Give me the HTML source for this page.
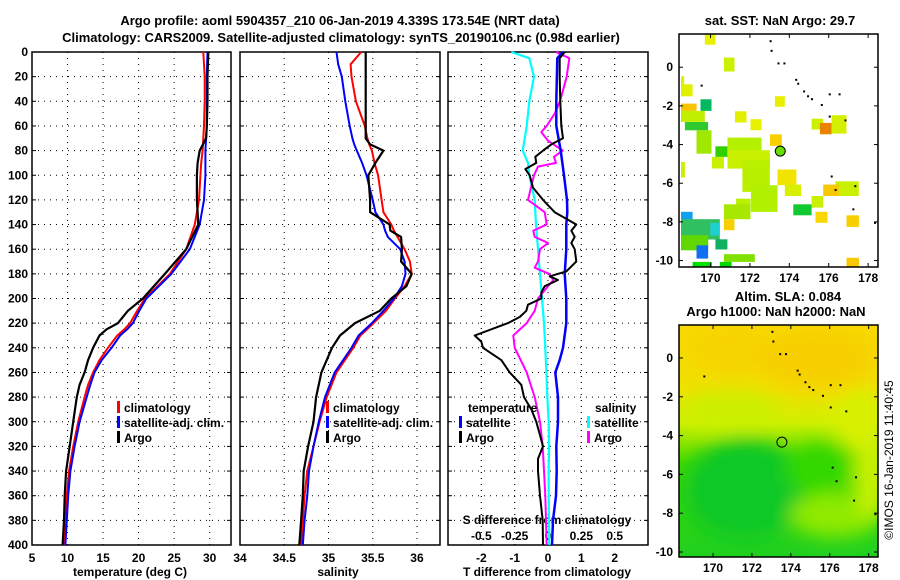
<!DOCTYPE html>
<html><head><meta charset="utf-8">
<style>
html,body{margin:0;padding:0;background:#fff;}
svg{display:block;font-family:"Liberation Sans",Arial,sans-serif;}
.t{font-weight:bold;font-size:12px;fill:#000;}
.ttl{font-weight:bold;font-size:13px;fill:#000;}
</style></head>
<body>
<svg id="fig" width="900" height="580" viewBox="0 0 900 580" xmlns="http://www.w3.org/2000/svg">
<text class="ttl" x="340" y="25" text-anchor="middle">Argo profile: aoml 5904357_210 06-Jan-2019 4.339S 173.54E (NRT data)</text>
<text class="ttl" x="341" y="42" text-anchor="middle">Climatology: CARS2009. Satellite-adjusted climatology: synTS_20190106.nc (0.98d earlier)</text>
<text class="ttl" x="780" y="25" text-anchor="middle">sat. SST: NaN Argo: 29.7</text>
<text class="ttl" x="788" y="301" text-anchor="middle">Altim. SLA: 0.084</text>
<text class="ttl" x="776" y="316" text-anchor="middle">Argo h1000: NaN h2000: NaN</text>
<text x="893" y="460" font-size="12" text-anchor="middle" transform="rotate(-90 893 460)">©IMOS 16-Jan-2019 11:40:45</text>
<g id="g"></g>
</svg>
<script>
// ---- profile data ----
const depthT = [0,20,40,60,70,80,90,100,120,140,160,180,200,210,220,225,230,240,250,260,270,280,300,320,340,360,380,400];
const argoT = [29.8,29.7,29.7,29.6,29.5,28.6,28.3,28.2,28.2,28.4,26.7,23.7,20.6,18.5,17.1,15.5,14.5,13.6,12.9,12.4,11.7,11.3,10.8,10.3,9.8,9.6,9.5,9.3];
const climT = [29.1,29.3,29.3,29.2,29.1,29.0,28.8,28.7,28.5,27.9,26.7,24.4,20.9,19.8,18.8,18.0,17.0,15.7,14.5,13.6,12.9,12.4,11.5,10.8,10.2,9.9,9.7,9.5];
const satT = [29.7,29.6,29.6,29.6,29.5,29.4,29.4,29.4,29.2,28.6,27.2,24.6,21.1,20.1,19.2,18.4,17.4,16.2,14.8,13.8,13.2,12.7,11.7,11.0,10.4,10.1,9.9,9.7];

const depthS = [0,10,20,40,60,70,75,80,90,100,120,130,140,145,150,160,170,180,190,200,210,220,230,240,260,280,300,320,340,360,380,400];
const argoS = [35.42,35.42,35.42,35.42,35.42,35.42,35.47,35.62,35.53,35.45,35.47,35.47,35.69,35.7,35.82,35.83,35.82,35.94,35.88,35.71,35.58,35.3,35.13,35.04,34.92,34.86,34.83,34.77,34.72,34.71,34.69,34.67];
const climS = [35.37,35.25,35.26,35.31,35.41,35.44,35.46,35.49,35.52,35.56,35.6,35.62,35.71,35.74,35.78,35.86,35.92,35.94,35.86,35.75,35.65,35.51,35.36,35.28,35.09,34.98,34.9,34.83,34.76,34.73,34.71,34.69];
const satS = [35.09,35.11,35.15,35.19,35.24,35.27,35.29,35.32,35.38,35.43,35.5,35.53,35.62,35.64,35.67,35.81,35.86,35.87,35.83,35.74,35.62,35.49,35.34,35.26,35.07,34.96,34.89,34.83,34.78,34.76,34.73,34.71];

const depthSatTd = [0,5,40,60,80,100,120,130,140,160,180,200,220,240,250,260,280,300,320,340,360,380,400];
const satTd = [0.45,0.28,0.25,0.25,0.38,0.48,0.57,0.58,0.55,0.55,0.5,0.55,0.55,0.45,0.35,0.22,0.3,0.3,0.25,0.26,0.24,0.15,0.12];
const depthArgoTd = [0,5,20,40,60,70,75,80,85,90,95,100,110,120,130,140,145,150,155,160,170,178,182,185,190,195,200,205,210,215,220,225,230,235,240,250,260,270,280,290,300,310,320,330,340,360,380,400];
const argoTd = [0.5,0.35,0.35,0.37,0.4,0.45,0.1,-0.15,-0.38,-0.35,-0.68,-0.55,-0.45,-0.15,0.2,0.85,0.7,0.8,0.7,0.8,0.85,0.55,0.05,0.3,-0.1,-0.2,-0.2,-0.6,-0.65,-0.85,-1.2,-1.7,-2.2,-2.0,-1.95,-1.4,-1.15,-0.8,-0.72,-0.5,-0.35,-0.25,-0.15,-0.3,-0.3,-0.24,-0.16,-0.15];
const depthSatSd = [0,5,20,40,60,80,90,100,120,140,160,180,200,220,240,260,280,300,320,340,360,400];
const satSd = [-0.275,-0.14,-0.105,-0.14,-0.16,-0.19,-0.15,-0.14,-0.1,-0.09,-0.075,-0.06,-0.045,-0.03,-0.02,-0.012,-0.005,0.005,0.008,0.005,0.005,0.01];
const depthArgoSd = [0,5,20,40,50,60,65,72,80,85,90,93,100,120,130,140,145,150,155,160,170,175,180,185,190,200,210,220,230,240,260,280,300,320,340,360,380,400];
const argoSd = [0.06,0.16,0.14,0.09,0.05,-0.01,-0.05,0,0.11,0.045,0.06,-0.075,-0.105,-0.15,-0.025,-0.01,-0.11,-0.1,0,-0.06,-0.075,-0.1,0.01,0.04,0,-0.075,-0.1,-0.16,-0.26,-0.25,-0.16,-0.1,-0.06,-0.04,-0.03,-0.02,-0.015,-0.01];

const depthTicks = [0,20,40,60,80,100,120,140,160,180,200,220,240,260,280,300,320,340,360,380,400];
const tempTicks = [5,10,15,20,25,30];
const salTicks = [34,34.5,35,35.5,36];
const tdTicks = [-2,-1,0,1,2];
const sdTicks = [-0.5,-0.25,0,0.25,0.5];
const sdTickLabels = ["-0.5","-0.25","0","0.25","0.5"];

// ---- map data: [lon1, lat1, lon2, lat2, color] ----
const sstCells = [
 [169.71,1.69,170.25,1.17,"#e6f000"],[170.68,0.5,171.22,-0.22,"#ccf000"],
 [168.5,-0.47,168.66,-1.5,"#e0f000"],[168.5,-0.88,169.09,-1.5,"#e0f000"],
 [173.27,-1.5,173.77,-2.05,"#e8f000"],[168.5,-1.88,169.29,-2.26,"#f8c400"],
 [169.49,-1.66,170.05,-2.26,"#00b860"],[168.5,-2.26,169.71,-2.83,"#c0f000"],
 [168.7,-2.83,169.88,-3.26,"#30c830"],[171.24,-2.28,171.83,-2.86,"#e2f000"],
 [172.03,-2.69,172.59,-3.26,"#e8f000"],[175.13,-2.66,175.72,-3.22,"#ccf000"],
 [176.14,-2.48,176.9,-3.43,"#d4f000"],[175.55,-2.88,176.14,-3.47,"#e88400"],
 [169.29,-3.26,170.05,-4.47,"#a0e800"],[173.02,-3.47,173.62,-4.07,"#f8d000"],
 [170.86,-3.64,172.59,-4.64,"#b4f000"],[170.25,-4.09,170.86,-4.64,"#30d000"],
 [170.07,-4.64,170.68,-5.24,"#c8f000"],[170.86,-4.29,173.01,-5.24,"#c8f000"],
 [168.5,-4.9,168.7,-5.7,"#c8f000"],[171.62,-4.81,173.01,-6.45,"#b8f000"],
 [173.4,-5.29,174.36,-6.1,"#f0e400"],[172.05,-6.1,173.4,-7.48,"#b0f000"],
 [173.77,-6.07,174.59,-6.66,"#d8f000"],[176.35,-5.9,177.53,-6.66,"#c8f000"],
 [175.72,-6.07,176.51,-6.66,"#f8c800"],[175.13,-6.66,175.72,-7.26,"#c8f000"],
 [171.3,-6.8,172.03,-7.1,"#b8f000"],[170.68,-7.09,172.03,-7.86,"#a8e800"],
 [174.2,-7.09,175.13,-7.66,"#10c830"],[168.5,-7.48,169.09,-8.05,"#10a0f0"],
 [168.5,-7.86,170.47,-8.91,"#30c060"],[169.99,-8.05,170.47,-8.7,"#20d0d0"],
 [170.68,-7.86,171.22,-8.43,"#f8d000"],[175.33,-7.48,175.94,-8.05,"#f8d800"],
 [176.9,-7.66,177.53,-8.26,"#f8d000"],[170.25,-8.9,170.86,-9.43,"#10b060"],
 [168.5,-8.69,169.88,-9.47,"#60d800"],[169.29,-9.21,169.88,-9.9,"#1070f0"],
 [170.68,-9.67,172.25,-10.07,"#80e000"],[169.09,-10.07,170.07,-10.33,"#00e000"],
 [170.47,-10.07,171.07,-10.33,"#00d800"],[176.9,-9.86,177.53,-10.33,"#f8c800"]
];
const islands = [[173.0,1.4],[173.05,0.9],[173.4,0.25],[173.7,0.25],[174.3,-0.6],[174.4,-0.8],[174.7,-1.2],[174.9,-1.45],[175.1,-1.6],[175.6,-1.9],[176.0,-1.35],[176.5,-1.35],[176.0,-2.5],[176.8,-2.7],[169.5,-0.9],[176.1,-5.6],[176.3,-6.3],[177.3,-6.1],[177.2,-7.3],[178.3,-8.0]];
const argoLon = 173.54, argoLat = -4.339;
const lonTicks = [170,172,174,176,178];
const latTicks = [0,-2,-4,-6,-8,-10];

const NS = "http://www.w3.org/2000/svg";
const G = document.getElementById('g');
function mk(tag, attrs, parent){
  const e = document.createElementNS(NS, tag);
  for (const k in attrs) e.setAttribute(k, attrs[k]);
  (parent||G).appendChild(e);
  return e;
}
const Y0 = 52, YS = 493/400;
const yOf = d => Y0 + d*YS;
const panels = [
  {x0:32, x1:231, min:5, max:33, name:'temperature-panel'},
  {x0:240, x1:440, min:34, max:36.26, name:'salinity-panel'},
  {x0:448, x1:648, min:-3, max:3, name:'difference-panel'}
];
function xf(p){ return v => p.x0 + (v-p.min)/(p.max-p.min)*(p.x1-p.x0); }

panels.forEach((p,i)=>{
  const grid = mk('g',{});
  
  
  depthTicks.forEach(d=>{
    if(d===0||d===400) return;
    const l = mk('line',{x1:p.x0,x2:p.x1,y1:yOf(d),y2:yOf(d),stroke:'#000','stroke-width':1,'stroke-dasharray':'1 5'},grid);
    
    
    mk('line',{x1:p.x0,x2:p.x0+4,y1:yOf(d),y2:yOf(d),stroke:'#000'},grid);
    mk('line',{x1:p.x1-4,x2:p.x1,y1:yOf(d),y2:yOf(d),stroke:'#000'},grid);
  });
  const fr = mk('rect',{x:p.x0,y:Y0,width:p.x1-p.x0,height:400*YS,fill:'none',stroke:'#000','stroke-width':1.5});
  
  
});
depthTicks.forEach(d=>{
  const t = mk('text',{x:28,y:yOf(d)+4,'text-anchor':'end',class:'t'});
  t.textContent = d;
  
  
});
function vgrid(p, ticks, fx, labels, ly){
  ticks.forEach((v,i)=>{
    const x = fx(v);
    if (x>p.x0+2 && x<p.x1-2){
      const l = mk('line',{x1:x,x2:x,y1:Y0,y2:Y0+400*YS,stroke:'#000','stroke-dasharray':'1 5'});
      
      
    }
    if (labels){
      const t = mk('text',{x:x,y:ly,'text-anchor':'middle',class:'t'});
      t.textContent = labels[i];
      
      
    }
  });
}
const fT = xf(panels[0]), fS = xf(panels[1]), fD = xf(panels[2]);
const fSd = v => fD(v*4);
vgrid(panels[0], tempTicks, fT, tempTicks.map(String), 562);
vgrid(panels[1], salTicks, fS, salTicks.map(String), 562);
vgrid(panels[2], tdTicks, fD, tdTicks.map(String), 562);
vgrid(panels[2], sdTicks, fSd, sdTickLabels, 540);

function axTitle(x,y,txt,name){
  const t = mk('text',{x:x,y:y,'text-anchor':'middle',class:'t'});
  t.textContent = txt;
  
  
}
axTitle(130,576,'temperature (deg C)','temperature-axis-title');
axTitle(338,576,'salinity','salinity-axis-title');
axTitle(547,576,'T difference from climatology','t-difference-axis-title');
axTitle(547,524,'S difference from climatology','s-difference-axis-title');

function line(depths, vals, fx, color, w, name){
  const pts = vals.map((v,i)=> fx(v).toFixed(1)+','+yOf(depths[i]).toFixed(1)).join(' ');
  const pl = mk('polyline',{points:pts,fill:'none',stroke:color,'stroke-width':w,'stroke-linejoin':'round'});
  
  
}
line(depthT, climT, fT, '#ff0000', 2, 'climatology-temperature-line');
line(depthT, satT, fT, '#0000ff', 2, 'satellite-temperature-line');
line(depthT, argoT, fT, '#000000', 2.2, 'argo-temperature-line');
line(depthS, climS, fS, '#ff0000', 2, 'climatology-salinity-line');
line(depthS, satS, fS, '#0000ff', 2, 'satellite-salinity-line');
line(depthS, argoS, fS, '#000000', 2.2, 'argo-salinity-line');
line(depthSatSd, satSd, fSd, '#00ffff', 2.2, 'satellite-s-difference-line');
line(depthArgoSd, argoSd, fSd, '#ff00ff', 2, 'argo-s-difference-line');
line(depthSatTd, satTd, fD, '#0000ff', 2.5, 'satellite-t-difference-line');
line(depthArgoTd, argoTd, fD, '#000000', 2, 'argo-t-difference-line');

function legend(x,y,color,txt,name){
  if(color){
    const m = mk('rect',{x:x,y:y-11,width:3,height:12,fill:color});
    
    
  }
  const t = mk('text',{x:x+7,y:y,class:'t'});
  t.textContent = txt;
  
  
}
legend(117,412,'#ff0000','climatology','legend-climatology');
legend(117,427,'#0000ff','satellite-adj. clim.','legend-satellite-adj');
legend(117,442,'#000000','Argo','legend-argo');
legend(326,412,'#ff0000','climatology','legend-climatology-sal');
legend(326,427,'#0000ff','satellite-adj. clim.','legend-satellite-adj-sal');
legend(326,442,'#000000','Argo','legend-argo-sal');
legend(461,412,null,'temperature','legend-temperature-header');
legend(459,427,'#0000ff','satellite','legend-t-satellite');
legend(459,442,'#000000','Argo','legend-t-argo');
legend(588,412,null,'salinity','legend-salinity-header');
legend(587,427,'#00ffff','satellite','legend-s-satellite');
legend(587,442,'#ff00ff','Argo','legend-s-argo');

// ---- maps ----
function mapAxes(m){
  const lx = v => m.x0 + (v-m.lon0)*m.sx;
  const ly = v => m.y0 + (m.lat0-v)*m.sy;
  return {lx, ly};
}
const map1 = {x0:679,y0:34,x1:878,y1:267,lon0:168.4,lat0:1.72,sx:19.7,sy:19.33,name:'sst-map'};
const map2 = {x0:679,y0:325,x1:878,y1:557,lon0:168.25,lat0:1.7,sx:19.45,sy:19.4,name:'sla-map'};

(function(){
  const defs = mk('defs',{});
  const lg = mk('linearGradient',{id:'slag',x1:0,y1:0,x2:0,y2:1},defs);
  [[0,'#f8d800'],[0.28,'#f0e000'],[0.42,'#d0f000'],[0.6,'#40d800'],[1,'#20d020']].forEach(s=>mk('stop',{offset:s[0],'stop-color':s[1]},lg));
  const f = mk('filter',{id:'blur',x:'-20%',y:'-20%',width:'140%',height:'140%'},defs);
  mk('feGaussianBlur',{stdDeviation:9},f);
  const cp = mk('clipPath',{id:'clip2'},defs);
  mk('rect',{x:map2.x0,y:map2.y0,width:map2.x1-map2.x0,height:map2.y1-map2.y0},cp);
  const g2 = mk('g',{'clip-path':'url(#clip2)'});
  
  
  mk('rect',{x:map2.x0,y:map2.y0,width:199,height:232,fill:'url(#slag)'},g2);
  const bl = mk('g',{filter:'url(#blur)'},g2);
  mk('ellipse',{cx:815,cy:360,rx:60,ry:30,fill:'#f8cc00',opacity:0.8},bl);
  mk('ellipse',{cx:730,cy:350,rx:40,ry:25,fill:'#f8d000',opacity:0.7},bl);
  mk('ellipse',{cx:730,cy:410,rx:50,ry:20,fill:'#c8f000',opacity:0.8},bl);
  mk('ellipse',{cx:745,cy:490,rx:60,ry:50,fill:'#10c828'},bl);
  mk('ellipse',{cx:820,cy:470,rx:35,ry:25,fill:'#30d800'},bl);
  mk('ellipse',{cx:835,cy:515,rx:45,ry:22,fill:'#90ea00'},bl);
  mk('ellipse',{cx:872,cy:470,rx:18,ry:50,fill:'#c8f000'},bl);
  mk('ellipse',{cx:860,cy:420,rx:25,ry:30,fill:'#d8f000'},bl);
})();

[map1,map2].forEach((m,mi)=>{
  const {lx,ly} = mapAxes(m);
  if (mi===0){
    sstCells.forEach(c=>{
      const r = mk('rect',{x:lx(c[0]).toFixed(1),y:ly(c[1]).toFixed(1),width:(lx(c[2])-lx(c[0])).toFixed(1),height:(ly(c[3])-ly(c[1])).toFixed(1),fill:c[4]});
      
      
    });
  }
  islands.forEach(p=>{
    const r = mk('rect',{x:lx(p[0]),y:ly(p[1]),width:2,height:2,fill:'#000'});
    
    
  });
  const c = mk('circle',{cx:lx(argoLon),cy:ly(argoLat),r:5,fill:mi===0?'#66e000':'none',stroke:'#000','stroke-width':1});
  
  
  const fr = mk('rect',{x:m.x0,y:m.y0,width:m.x1-m.x0,height:m.y1-m.y0,fill:'none',stroke:'#000','stroke-width':1.5});
  
  
  lonTicks.forEach(v=>{
    const x = lx(v);
    mk('line',{x1:x,x2:x,y1:m.y1,y2:m.y1-4,stroke:'#000'});
    mk('line',{x1:x,x2:x,y1:m.y0,y2:m.y0+4,stroke:'#000'});
    const t = mk('text',{x:x,y:m.y1+15,'text-anchor':'middle',class:'t'});
    t.textContent = v;
    
    
  });
  latTicks.forEach(v=>{
    const y = ly(v);
    mk('line',{x1:m.x0,x2:m.x0+4,y1:y,y2:y,stroke:'#000'});
    mk('line',{x1:m.x1,x2:m.x1-4,y1:y,y2:y,stroke:'#000'});
    const t = mk('text',{x:m.x0-6,y:y+4,'text-anchor':'end',class:'t'});
    t.textContent = v;
    
    
  });
});
</script>
</body></html>
